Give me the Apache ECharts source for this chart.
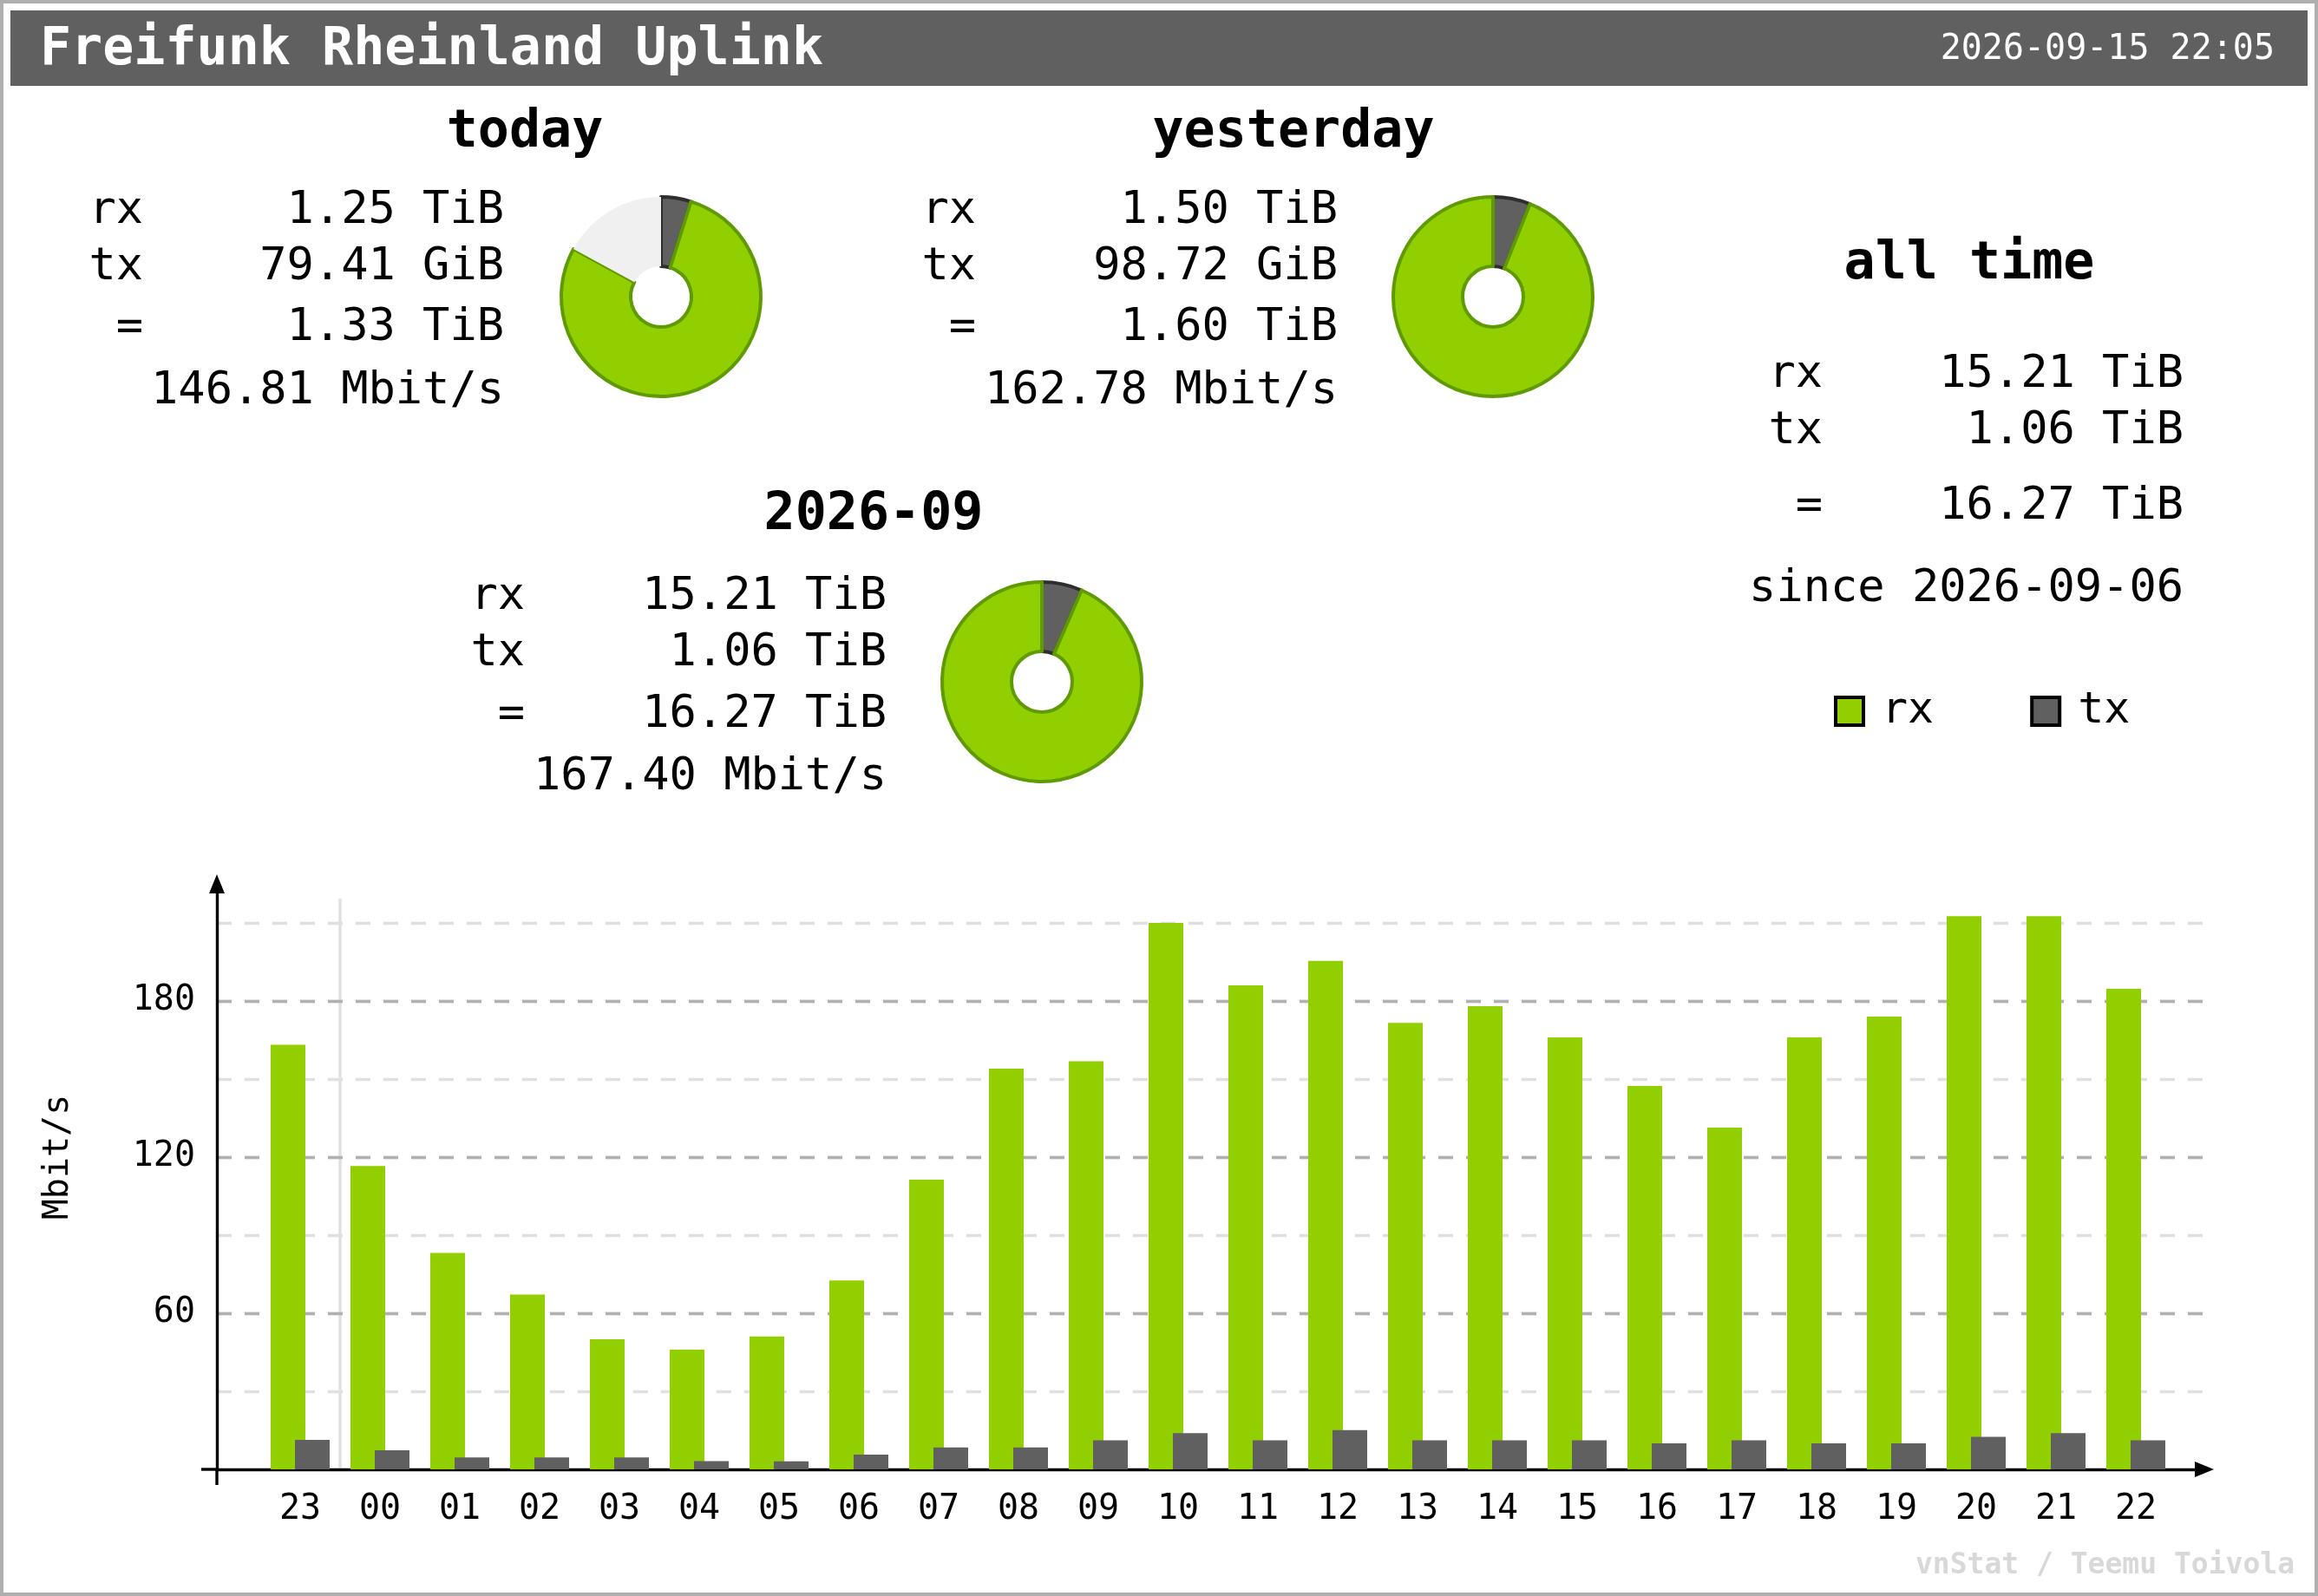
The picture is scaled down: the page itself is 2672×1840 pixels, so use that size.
<!DOCTYPE html>
<html>
<head>
<meta charset="utf-8">
<script src="https://cdn.jsdelivr.net/npm/echarts@6/dist/echarts.min.js"></script>
<style>
html, body { margin: 0; padding: 0; background: #fff; }
#chart { width: 2672px; height: 1840px; }
</style>
</head>
<body>
<div id="chart"></div>
<script>
// hourly rates, Mbit/s
var hours = ['23', '00', '01', '02', '03', '04', '05', '06', '07', '08', '09', '10',
	'11', '12', '13', '14', '15', '16', '17', '18', '19', '20', '21', '22'];
var rxRate = [163.2, 116.6, 83.2, 67.2, 50.0, 46.0, 51.1, 72.6, 111.3, 154.0, 156.8, 210.0,
	186.0, 195.4, 171.6, 178.0, 166.0, 147.3, 131.3, 166.0, 174.0, 212.6, 212.6, 184.7];
var txRate = [11.3, 7.3, 4.6, 4.6, 4.6, 3.2, 3.1, 5.7, 8.4, 8.4, 11.2, 13.9,
	11.2, 15.1, 11.2, 11.2, 11.2, 10.0, 11.2, 10.0, 10.0, 12.5, 13.9, 11.2];
var yMax = 225;
var yMinorStep = 30;
var yMajorStep = 60;

// summary texts
var rowLabels = ['rx', 'tx', '='];
var todayRows = ['1.25 TiB', '79.41 GiB', '1.33 TiB', '146.81 Mbit/s'];
var yesterdayRows = ['1.50 TiB', '98.72 GiB', '1.60 TiB', '162.78 Mbit/s'];
var monthRows = ['15.21 TiB', '1.06 TiB', '16.27 TiB', '167.40 Mbit/s'];
var allTimeRows = ['15.21 TiB', '1.06 TiB', '16.27 TiB', 'since 2026-09-06'];

// pies: tx, rx (and the unfilled rest for today)
var todayPie = [79.41, 1280, 280];
var yesterdayPie = [98.72, 1536];
var monthPie = [1.06, 15.21];

var FONT = '"DejaVu Sans Mono", monospace';
var RX = '#92cf00', TX = '#606060';

function txt(x, y, s, size, align, bold, color) {
	return {
		type: 'text', x: x, y: y, silent: true,
		style: {
			text: s,
			font: (bold ? 'bold ' : '') + size + 'px ' + FONT,
			fill: color || '#000',
			textAlign: align,
			textVerticalAlign: 'middle'
		}
	};
}

function block(title, tx, ty, labelR, valR, ys, rows) {
	var out = [txt(tx, ty, title, 60, 'center', true)];
	for (var i = 0; i < 3; i++) {
		out.push(txt(labelR, ys[i], rowLabels[i], 52, 'right'));
		out.push(txt(valR, ys[i], rows[i], 52, 'right'));
	}
	out.push(txt(valR, ys[3], rows[3], 52, 'right'));
	return out;
}

function pie(center, values) {
	var items = [
		{ value: values[0], name: 'tx', itemStyle: { color: TX, borderColor: '#2e2e2e' } },
		{ value: values[1], name: 'rx', itemStyle: { color: RX, borderColor: '#5f9a00' } }
	];
	if (values.length > 2) {
		items.push({ value: values[2], name: 'rest', itemStyle: { color: '#f0f0f0', borderWidth: 0 } });
	}
	return {
		type: 'pie', center: center, radius: [35, 115], startAngle: 90, clockwise: true,
		silent: true, label: { show: false }, labelLine: { show: false },
		itemStyle: { borderWidth: 4 }, emphasis: { disabled: true },
		data: items
	};
}

var graphics = [
	{ type: 'rect', shape: { x: 2, y: 2, width: 2668, height: 1836 }, style: { fill: 'none', stroke: '#aeaeae', lineWidth: 4 }, silent: true },
	{ type: 'rect', shape: { x: 12, y: 12, width: 2648, height: 87 }, style: { fill: '#606060' }, silent: true },
	txt(46, 58, 'Freifunk Rheinland Uplink', 60, 'left', true, '#fff'),
	txt(2622, 58, '2026-09-15 22:05', 40, 'right', false, '#fff'),
	txt(2645, 1805, 'vnStat / Teemu Toivola', 33, 'right', true, '#d8d8d8'),
	{ type: 'text', x: 68, y: 1334, rotation: Math.PI / 2, silent: true,
		style: { text: 'Mbit/s', font: '40px ' + FONT, fill: '#000', textAlign: 'center', textVerticalAlign: 'middle' } },
	// origin cross
	{ type: 'line', shape: { x1: 232, y1: 1694, x2: 250, y2: 1694 }, style: { stroke: '#000', lineWidth: 3.4 }, silent: true },
	{ type: 'line', shape: { x1: 250, y1: 1694, x2: 250, y2: 1712 }, style: { stroke: '#000', lineWidth: 3.4 }, silent: true },
	// day separator, placed after layout
	{ id: 'sep', type: 'line', shape: { x1: 0, y1: 1036, x2: 0, y2: 1692 }, style: { stroke: '#e0e0e0', lineWidth: 3.4 }, silent: true, z: -1 }
];
graphics = graphics
	.concat(block('today', 605, 153, 165, 581, [243, 308, 378, 451], todayRows))
	.concat(block('yesterday', 1491, 153, 1125, 1542, [243, 308, 378, 451], yesterdayRows))
	.concat(block('2026-09', 1007, 594, 605, 1022, [688, 753, 824, 896], monthRows))
	.concat(block('all time', 2270, 305, 2101, 2517, [432, 497, 584, 679], allTimeRows));

var option = {
	animation: false,
	backgroundColor: '#fff',
	textStyle: { fontFamily: FONT },
	legend: {
		data: ['rx', 'tx'],
		left: 2114, top: 795, padding: 0,
		icon: 'rect', itemWidth: 32, itemHeight: 32, itemGap: 111,
		itemStyle: { borderColor: '#000', borderWidth: 4 },
		textStyle: { fontSize: 50, fontFamily: FONT, color: '#000', padding: [0, 0, 0, 16] },
		selectedMode: false
	},
	grid: [
		{ left: 250, right: 131, top: 1019, bottom: 146 },
		{ left: 300, right: 164, top: 1019, bottom: 146 }
	],
	xAxis: [
		{
			gridIndex: 0, type: 'value', min: 0, max: 1, position: 'bottom',
			axisLine: { show: true, symbol: ['none', 'triangle'], symbolSize: [18, 22], lineStyle: { color: '#000', width: 3.4 } },
			axisTick: { show: false }, axisLabel: { show: false }, splitLine: { show: false }
		},
		{
			gridIndex: 1, type: 'category', data: hours, position: 'bottom',
			axisLine: { show: false }, axisTick: { show: false },
			axisLabel: { interval: 0, fontSize: 40, color: '#000', fontFamily: FONT, margin: 27 },
			splitLine: { show: false }
		}
	],
	yAxis: [
		{
			gridIndex: 0, type: 'value', min: 0, max: yMax, interval: yMinorStep, position: 'left',
			axisLine: { show: false }, axisTick: { show: false }, axisLabel: { show: false },
			splitLine: { show: true, showMinLine: false, showMaxLine: false, lineStyle: { color: '#e0e0e0', type: [17, 15], width: 3.4 } }
		},
		{
			gridIndex: 0, type: 'value', min: 0, max: yMax, interval: yMajorStep, position: 'left',
			axisLine: { show: true, symbol: ['none', 'triangle'], symbolSize: [18, 22], lineStyle: { color: '#000', width: 3.4 } },
			axisTick: { show: false },
			axisLabel: { fontSize: 40, color: '#000', fontFamily: FONT, margin: 25, showMinLabel: false, showMaxLabel: false },
			splitLine: { show: true, showMinLine: false, showMaxLine: false, lineStyle: { color: '#b0b0b0', type: [17, 15], width: 3.4 } }
		},
		{ gridIndex: 1, type: 'value', min: 0, max: yMax, show: false, splitLine: { show: false } }
	],
	series: [
		{ name: 'rx', type: 'bar', xAxisIndex: 1, yAxisIndex: 2, data: rxRate, barWidth: 40, barGap: '-30%', itemStyle: { color: RX }, silent: true },
		{ name: 'tx', type: 'bar', xAxisIndex: 1, yAxisIndex: 2, data: txRate, barWidth: 40, barGap: '-30%', itemStyle: { color: TX }, silent: true },
		pie([762, 342], todayPie),
		pie([1721, 342], yesterdayPie),
		pie([1201, 786], monthPie)
	],
	graphic: graphics
};

var myChart = echarts.init(document.getElementById('chart'), null, { renderer: 'canvas' });
myChart.setOption(option);

// separator between yesterday's last hour and today's first
var xa = myChart.convertToPixel({ xAxisIndex: 1 }, hours[0]);
var xb = myChart.convertToPixel({ xAxisIndex: 1 }, hours[1]);
var sx = (xa + xb) / 2;
myChart.setOption({ graphic: [{ id: 'sep', shape: { x1: sx, x2: sx } }] });
</script>
</body>
</html>
